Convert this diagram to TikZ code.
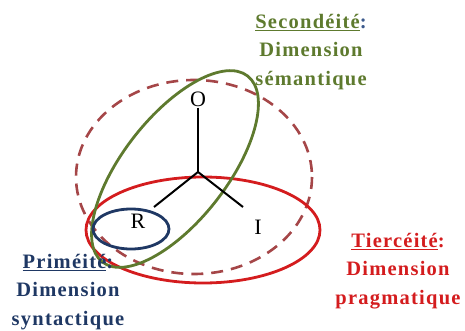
\documentclass[tikz,border=0pt]{standalone}
\usepackage{fontspec}
\setmainfont{Liberation Serif}
\newfontfamily\dimfont[LetterSpace=6]{Liberation Serif}
\usetikzlibrary{positioning}

\definecolor{secgreen}{RGB}{94,122,46}
\definecolor{dashred}{RGB}{165,70,72}
\definecolor{terred}{RGB}{212,28,30}
\definecolor{primblue}{RGB}{31,56,100}
\definecolor{colblue}{RGB}{60,90,140}

\tikzset{
  dimlabel/.style={align=center, font=\dimfont\bfseries\fontsize{20.5}{28.5}\selectfont},
  vertex/.style={font=\fontsize{22}{24}\selectfont, inner sep=1pt},
  ring/.style={line width=2.8pt}
}

\begin{document}
\begin{tikzpicture}[x=1pt,y=-1pt]
  \useasboundingbox (0,0) rectangle (465,331);
  % the four regions
  \draw[dashred, line width=2.6pt, dash pattern=on 12pt off 8pt] (194,177) ellipse [x radius=118, y radius=97];
  \draw[ring, terred] (203,230) ellipse [x radius=117, y radius=53];
  \draw[ring, secgreen, rotate around={52:(175,169)}] (175,169) ellipse [x radius=118, y radius=52];
  \draw[ring, primblue] (131,229) ellipse [x radius=38, y radius=20];
  % the sign
  \node[vertex] (O) at (198,99) {O};
  \node[vertex] (R) at (138,221) {R};
  \node[vertex] (I) at (258,227) {I};
  \coordinate (mid) at (198,172);
  \coordinate (rtip) at (154,207);
  \coordinate (itip) at (243,207);
  \draw[line width=2pt] (O) -- (mid);
  \draw[line width=2pt] (rtip) -- (mid) -- (itip);
  % labels
  \node[dimlabel, text=secgreen] (sec) at (311,52) {\underline{Secondéité}\textcolor{colblue}{:}\\Dimension\\sémantique};
  \node[dimlabel, text=primblue] (prim) at (68,292) {\underline{Priméité}:\\Dimension\\syntactique};
  \node[dimlabel, text=terred] (ter) at (398,271) {\underline{Tiercéité}:\\Dimension\\pragmatique};
\end{tikzpicture}
\end{document}
